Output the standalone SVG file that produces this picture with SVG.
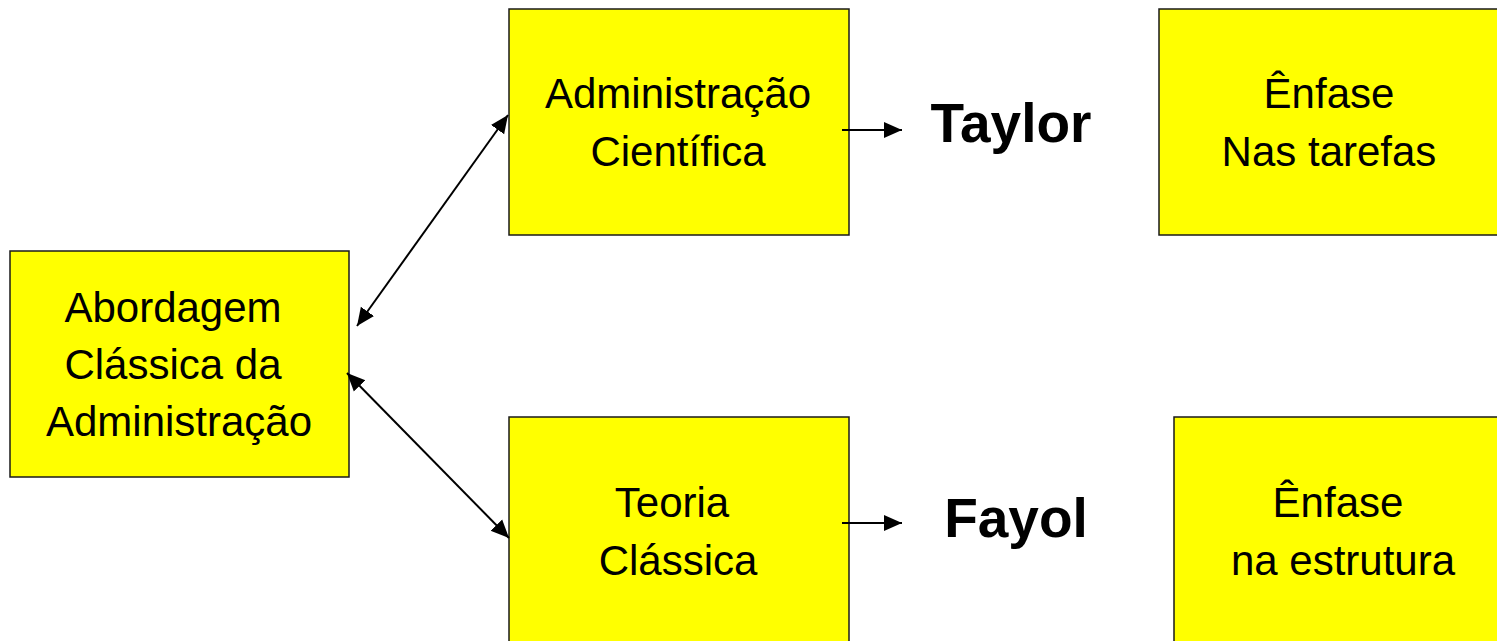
<svg xmlns="http://www.w3.org/2000/svg" width="1497" height="641" viewBox="0 0 1497 641">
<style>
.box{fill:#FFFF00;stroke:#1a1a1a;stroke-width:1.5}
.t{font-family:"Liberation Sans",Arial,sans-serif;font-size:42px;fill:#000;text-anchor:middle}
.b{font-family:"Liberation Sans",Arial,sans-serif;font-size:55px;font-weight:bold;fill:#000;text-anchor:middle}
.c{stroke:#000;stroke-width:2;fill:none}
</style>
<defs>
<marker id="ah2" viewBox="0 0 10 10" refX="10" refY="5" markerWidth="18" markerHeight="18" markerUnits="userSpaceOnUse" orient="auto-start-reverse">
<path d="M0,0.5 L10,5 L0,9.5 z" fill="#000"/>
</marker>
</defs>
<rect width="1497" height="641" fill="#fff"/>
<g id="abordagem">
<rect class="box" x="10" y="251" width="339" height="226"/>
<text class="t" x="173" y="322">Abordagem</text>
<text class="t" x="173" y="379">Clássica da</text>
<text class="t" x="179" y="436">Administração</text>
</g>
<g id="cientifica">
<rect class="box" x="509" y="9" width="340" height="226"/>
<text class="t" x="678" y="108">Administração</text>
<text class="t" x="678" y="166">Científica</text>
</g>
<g id="taylor">
<text class="b" x="1011" y="142">Taylor</text>
</g>
<g id="enfase-tarefas">
<rect class="box" x="1159" y="9" width="345" height="226"/>
<text class="t" x="1329" y="108">Ênfase</text>
<text class="t" x="1329" y="166">Nas tarefas</text>
</g>
<g id="classica">
<rect class="box" x="509" y="417" width="340" height="240"/>
<text class="t" x="672" y="517">Teoria</text>
<text class="t" x="678" y="575">Clássica</text>
</g>
<g id="fayol">
<text class="b" x="1016" y="537">Fayol</text>
</g>
<g id="enfase-estrutura">
<rect class="box" x="1174" y="417" width="330" height="240"/>
<text class="t" x="1338" y="517">Ênfase</text>
<text class="t" x="1343" y="575">na estrutura</text>
</g>
<g id="connectors">
<line class="c" x1="357" y1="326" x2="508" y2="115" marker-start="url(#ah2)" marker-end="url(#ah2)"/>
<line class="c" x1="347" y1="373" x2="509" y2="538" marker-start="url(#ah2)" marker-end="url(#ah2)"/>
<line class="c" x1="842" y1="130" x2="902" y2="130" marker-end="url(#ah2)"/>
<line class="c" x1="842" y1="523" x2="902" y2="523" marker-end="url(#ah2)"/>
</g>
</svg>
